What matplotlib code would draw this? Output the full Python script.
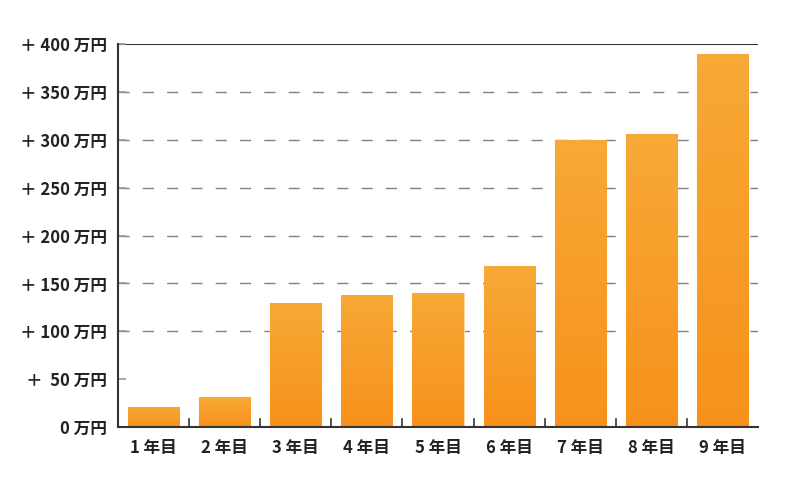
import numpy as np
import matplotlib
matplotlib.use("Agg")
import matplotlib.pyplot as plt
from matplotlib.colors import LinearSegmentedColormap

plt.rcParams['font.family'] = ['Noto Sans CJK JP', 'DejaVu Sans']

years = ['1 年目', '2 年目', '3 年目', '4 年目', '5 年目', '6 年目', '7 年目', '8 年目', '9 年目']
values = [21, 31, 130, 138, 140, 168, 300, 306, 390]
yticks = [0, 50, 100, 150, 200, 250, 300, 350, 400]
ytick_labels = ['0 万円', '＋  50 万円', '＋ 100 万円', '＋ 150 万円', '＋ 200 万円',
                '＋ 250 万円', '＋ 300 万円', '＋ 350 万円', '＋ 400 万円']

fig = plt.figure(figsize=(8, 4.8), dpi=100)
ax = fig.add_axes([118 / 800, 1 - 427 / 480, 640 / 800, 383 / 480])

x = np.arange(len(years))

# dashed grid (none at 0 and 50, solid line at the top)
for v in yticks[2:-1]:
    ax.axhline(v, color='#808080', lw=1.0, dashes=(8, 9.5), zorder=1)
ax.axhline(400, color='#333333', lw=1.5, zorder=1)

cmap = LinearSegmentedColormap.from_list('orange', ['#F8911C', '#F7A936'])
grad = np.linspace(0, 1, 256).reshape(-1, 1)
bars = ax.bar(x, values, width=0.72, color='#F79D2A', edgecolor='#FCD9A4', lw=0.8, zorder=2)
for b in bars:
    im = ax.imshow(grad, cmap=cmap, origin='lower', aspect='auto', zorder=2,
                   extent=[b.get_x(), b.get_x() + b.get_width(), 0, b.get_height()])
    im.set_clip_path(b)
ax.set_xlim(-0.5, len(years) - 0.5)
ax.set_ylim(0, 400)

for s in ['top', 'right']:
    ax.spines[s].set_visible(False)
for s in ['left', 'bottom']:
    ax.spines[s].set_color('#333333')
    ax.spines[s].set_linewidth(1.5)

ax.set_yticks(yticks)
ax.set_yticklabels(ytick_labels, fontsize=12, fontweight='bold', color='#222222')
ax.tick_params(axis='y', direction='in', length=6, color='#999999', width=1.2, pad=8)

ax.set_xticks(x)
ax.set_xticklabels(years, fontsize=12, fontweight='bold', color='#222222')
ax.tick_params(axis='x', length=0, pad=9)
# category boundary ticks on the bottom axis
for b in np.arange(0.5, len(years) - 0.5, 1):
    ax.plot([b, b], [0, 8], color='#333333', lw=1.2, zorder=3, clip_on=False)

fig.savefig('out.png', dpi=100)
